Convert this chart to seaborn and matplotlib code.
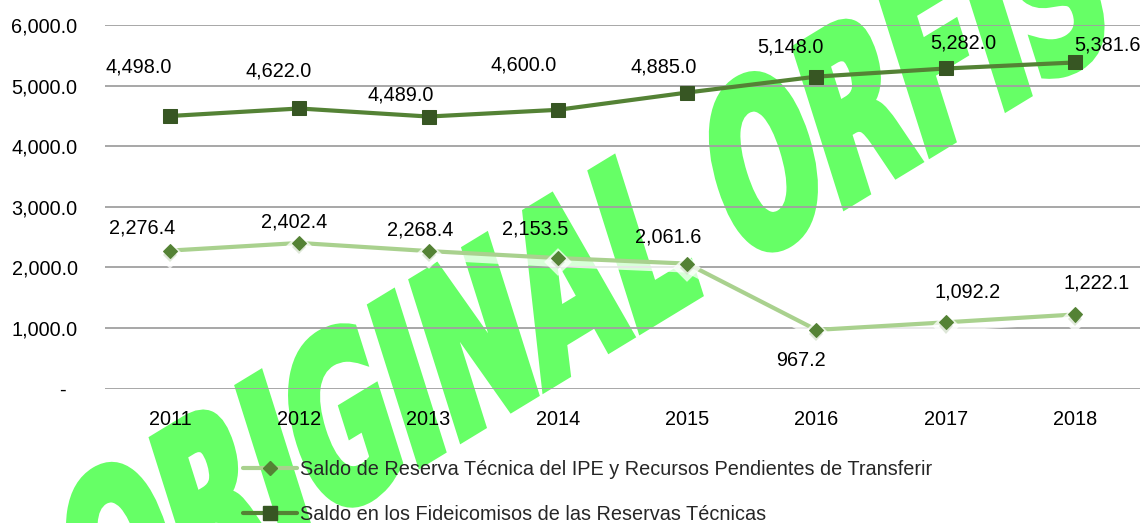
import numpy as np
import pandas as pd
import matplotlib
matplotlib.use("Agg")
import matplotlib.pyplot as plt
import seaborn as sns
from matplotlib import patheffects as pe
from matplotlib.transforms import Affine2D, IdentityTransform
from matplotlib.font_manager import FontProperties
from matplotlib.lines import Line2D
import matplotlib.ticker as mticker

# ---------------- data ----------------
years = ["2011", "2012", "2013", "2014", "2015", "2016", "2017", "2018"]
reserva = [2276.4, 2402.4, 2268.4, 2153.5, 2061.6, 967.2, 1092.2, 1222.1]
fideicomisos = [4498.0, 4622.0, 4489.0, 4600.0, 4885.0, 5148.0, 5282.0, 5381.6]
label_reserva = "Saldo de Reserva Técnica del IPE y Recursos Pendientes de Transferir"
label_fide = "Saldo en los Fideicomisos de las Reservas Técnicas"
yticks = [0, 1000, 2000, 3000, 4000, 5000, 6000]
watermark = "ORIGINAL ORFIS"

# data label offsets (pixels, relative to point)
off_fide = [(-31, 49), (-21, 37), (-28, 22), (-34, 45), (-23, 26), (-26, 30), (18, 25), (33, 17)]
off_res = [(-28, 23), (-5, 21), (-8, 21), (-23, 29), (-19, 27), (-15, -31), (22, 30), (22, 31)]

# ---------------- style ----------------
sns.set_theme(style="white")
FONT = ["Liberation Sans", "DejaVu Sans"]
plt.rcParams["font.family"] = FONT
FS = 14.3

c_dark_line = "#548235"
c_dark_mark = "#375623"
c_light_line = "#A9D18E"
c_light_mark = "#548235"
c_wm = "#66FF66"
c_grid = "#A0A0A0"

W_PX, H_PX, DPI = 1143, 523, 100
fig = plt.figure(figsize=(W_PX / DPI, H_PX / DPI), dpi=DPI)
ax = fig.add_axes([105.4 / W_PX, 1 - 388.5 / H_PX, 1034.2 / W_PX, 363.5 / H_PX])

df = pd.DataFrame({
    "year": years * 2,
    "value": reserva + fideicomisos,
    "serie": [label_reserva] * len(years) + [label_fide] * len(years),
})

sns.lineplot(data=df[df.serie == label_reserva], x="year", y="value", ax=ax,
             color=c_light_line, lw=3.0, marker="D", markersize=7.2,
             markerfacecolor=c_light_mark, markeredgecolor=c_light_mark,
             sort=False, legend=False, zorder=3,
             path_effects=[pe.Stroke(linewidth=7, foreground="white", alpha=0.75, offset=(0, -3)),
                           pe.Normal()])
sns.lineplot(data=df[df.serie == label_fide], x="year", y="value", ax=ax,
             color=c_dark_line, lw=3.0, marker="s", markersize=9.5,
             markerfacecolor=c_dark_mark, markeredgecolor=c_dark_mark,
             sort=False, legend=False, zorder=4)

# data labels
for i, (v, (dx, dy)) in enumerate(zip(fideicomisos, off_fide)):
    ax.annotate(f"{v:,.1f}", (i, v), xytext=(dx, dy), textcoords="offset pixels",
                ha="center", va="center", fontsize=FS, color="black", zorder=6,
                annotation_clip=False)
for i, (v, (dx, dy)) in enumerate(zip(reserva, off_res)):
    ax.annotate(f"{v:,.1f}", (i, v), xytext=(dx, dy), textcoords="offset pixels",
                ha="center", va="center", fontsize=FS, color="black", zorder=6,
                annotation_clip=False)

# axes
ax.set_xlim(-0.5, len(years) - 0.5)
ax.set_ylim(0, 6000)
ax.set_yticks(yticks)
ax.yaxis.set_major_formatter(mticker.FuncFormatter(lambda v, p: "-  " if v == 0 else f"{v:,.1f}"))
ax.set_xlabel("")
ax.set_ylabel("")
ax.tick_params(axis="y", length=0, pad=20, labelsize=FS, colors="black")
ax.tick_params(axis="x", length=0, pad=15.5, labelsize=FS, colors="black")
for s in ax.spines.values():
    s.set_visible(False)
ax.set_axisbelow(True)
ax.grid(axis="y", color=c_grid, lw=1.3)
ax.grid(axis="x", visible=False)
ax.set_facecolor("white")

# legend
handles = [
    Line2D([], [], color=c_light_line, lw=3.0, marker="D", markersize=7.2,
           markerfacecolor=c_light_mark, markeredgecolor=c_light_mark),
    Line2D([], [], color=c_dark_line, lw=3.0, marker="s", markersize=9.5,
           markerfacecolor=c_dark_mark, markeredgecolor=c_dark_mark),
]
fig.legend(handles, [label_reserva, label_fide], loc="upper left",
           bbox_to_anchor=(243 / W_PX, 1 - 460 / H_PX), frameon=False,
           fontsize=FS, handlelength=2.7, handletextpad=0.15, labelspacing=1.3,
           borderpad=0, borderaxespad=0)


# watermark: real text, condensed and slanted via a path effect
class SqueezeStroke(pe.Stroke):
    def __init__(self, sx, slant, **kw):
        super().__init__(**kw)
        self.sx = sx
        self.slant = slant

    def draw_path(self, renderer, gc, tpath, affine, rgbFace):
        local = Affine2D().scale(self.sx, 1.0).skew_deg(self.slant, 0)
        super().draw_path(renderer, gc, tpath, local + affine, rgbFace)


wm_fs = 158          # points
wm_sx = 0.593
wm_slant = 13.8
wm_angle = 31.3
wm_lw = 5.8          # points
anchor_img = (640, 335)   # bottom-left of the "L" stem (pixels from top-left)
anchor_em = 4.886         # position of that stem in em units from text start
em_px = wm_fs * DPI / 72.0
lw_px = wm_lw * DPI / 72.0
th_r = np.deg2rad(wm_angle)
u = np.array([np.cos(th_r), np.sin(th_r)])
n = np.array([-np.sin(th_r), np.cos(th_r)])
corner = np.array([anchor_img[0], H_PX - anchor_img[1]], dtype=float)
p0 = corner + (lw_px / 2.0) * (u + n) - anchor_em * em_px * wm_sx * u
prop = FontProperties(family="DejaVu Sans", weight="bold", size=wm_fs)
ax.text(p0[0], p0[1], watermark, transform=IdentityTransform(), fontproperties=prop,
        color=c_wm, rotation=wm_angle, rotation_mode="anchor", ha="left", va="baseline",
        zorder=0.2, clip_on=False,
        path_effects=[SqueezeStroke(wm_sx, wm_slant, linewidth=wm_lw, foreground=c_wm,
                                    joinstyle="miter")])

fig.savefig("out.png", dpi=DPI, facecolor="white")
